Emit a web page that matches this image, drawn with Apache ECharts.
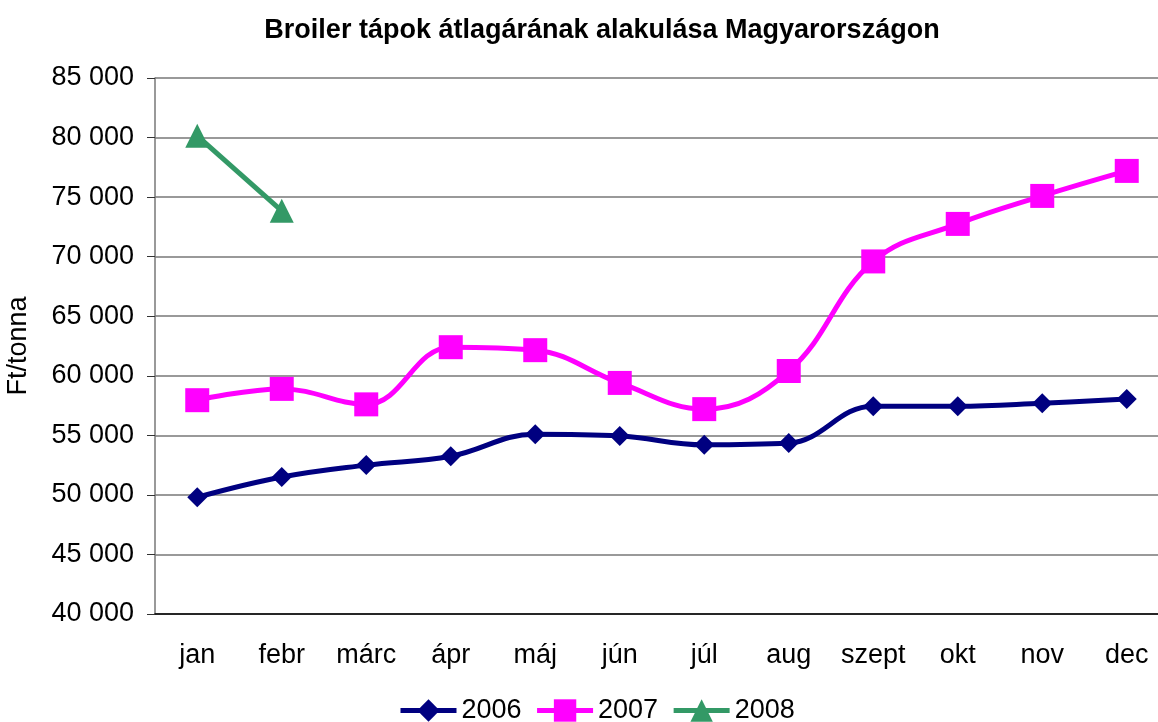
<!DOCTYPE html>
<html>
<head>
<meta charset="utf-8">
<script src="https://cdn.jsdelivr.net/npm/echarts@6/dist/echarts.min.js"></script>
<style>
  html, body { margin: 0; padding: 0; background: #fff; }
  #main { width: 1158px; height: 722px; }
</style>
</head>
<body>
<div id="main"></div>
<script>
// hónapok
const months = ['jan', 'febr', 'márc', 'ápr', 'máj', 'jún', 'júl', 'aug', 'szept', 'okt', 'nov', 'dec'];
// Ft/tonna értékek
const y2006 = [49800, 51500, 52500, 53250, 55100, 54950, 54200, 54350, 57450, 57450, 57700, 58050];
const y2007 = [57950, 58900, 57600, 62400, 62150, 59400, 57200, 60400, 69600, 72750, 75100, 77200];
const y2008 = [80150, 73850];

const myChart = echarts.init(document.getElementById('main'));
const font = 'Arial, "Liberation Sans", sans-serif';

const option = {
    animation: false,
    title: {
        text: 'Broiler tápok átlagárának alakulása Magyarországon',
        left: 597,
        top: 12,
        textAlign: 'center',
        textStyle: { fontFamily: font, fontSize: 27, fontWeight: 'bold', color: '#000' }
    },
    legend: {
        top: 692,
        left: 393,
        itemWidth: 56,
        itemHeight: 28,
        itemGap: 13,
        textStyle: { fontFamily: font, fontSize: 27, color: '#000' },
        lineStyle: { width: 5 },
        data: ['2006', '2007', '2008']
    },
    grid: {
        left: 155,
        top: 78,
        right: -11,
        bottom: 108,
        outerBoundsMode: 'none',
        containLabel: false
    },
    xAxis: {
        type: 'category',
        data: months,
        boundaryGap: true,
        axisLine: { lineStyle: { color: '#000', width: 1.5 } },
        axisTick: { length: 8, lineStyle: { color: '#555' } },
        axisLabel: { fontFamily: font, fontSize: 27, color: '#000', margin: 28, interval: 0 }
    },
    yAxis: {
        type: 'value',
        min: 40000,
        max: 85000,
        interval: 5000,
        name: 'Ft/tonna',
        nameLocation: 'middle',
        nameGap: 123,
        nameTextStyle: { fontFamily: font, fontSize: 27, color: '#000' },
        axisLine: { show: true, lineStyle: { color: '#777', width: 1.5 } },
        axisTick: { show: true, length: 8, lineStyle: { color: '#333' } },
        axisLabel: {
            fontFamily: font, fontSize: 27, color: '#000', margin: 21,
            formatter: v => String(v).replace(/(\d+)(\d{3})$/, '$1 $2')
        },
        splitLine: { lineStyle: { color: '#777', width: 1.5 } }
    },
    series: [
        {
            name: '2006',
            type: 'line',
            smooth: 0.4,
            data: y2006,
            symbol: 'diamond',
            symbolSize: 20,
            lineStyle: { width: 5, color: '#000080' },
            itemStyle: { color: '#000080' }
        },
        {
            name: '2007',
            type: 'line',
            smooth: 0.4,
            data: y2007,
            symbol: 'rect',
            symbolSize: 24,
            lineStyle: { width: 5, color: '#ff00ff' },
            itemStyle: { color: '#ff00ff' }
        },
        {
            name: '2008',
            type: 'line',
            data: y2008,
            symbol: 'triangle',
            symbolSize: 24,
            lineStyle: { width: 5, color: '#339966' },
            itemStyle: { color: '#339966' }
        }
    ]
};
myChart.setOption(option);
</script>
</body>
</html>
